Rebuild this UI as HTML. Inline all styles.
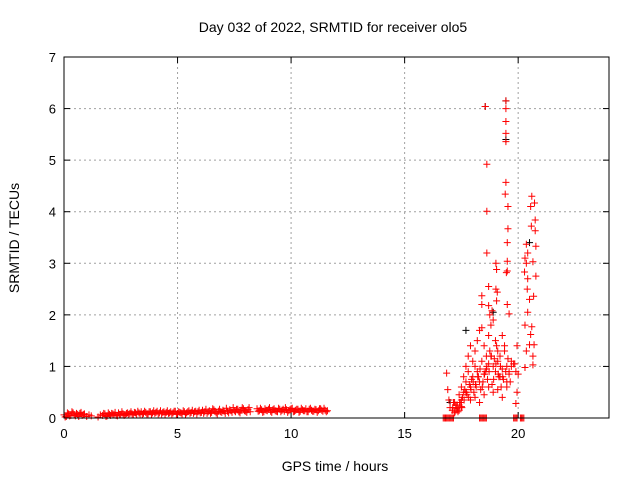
<!DOCTYPE html>
<html><head><meta charset="utf-8"><style>
html,body{margin:0;padding:0;background:#fff}
svg{display:block;font-family:"Liberation Sans",sans-serif}
</style></head><body>
<svg id="chart" width="640" height="480"></svg>
<script>
// Data (hours, TECU)
const baseTimes=[0.0,0.1,0.2,0.3,0.4,0.5,0.6,0.7,0.8,0.9,1.0,1.1,1.7,1.8,1.9,2.0,2.1,2.2,2.3,2.4,2.5,2.6,2.7,2.8,2.9,3.0,3.1,3.2,3.3,3.4,3.5,3.6,3.7,3.8,3.9,4.0,4.1,4.2,4.3,4.4,4.5,4.6,4.7,4.8,4.9,5.0,5.1,5.2,5.3,5.4,5.5,5.6,5.7,5.8,5.9,6.0,6.1,6.2,6.3,6.4,6.5,6.6,6.7,6.8,6.9,7.0,7.1,7.2,7.3,7.4,7.5,7.6,7.7,7.8,7.9,8.0,8.1,8.2,8.5,8.6,8.7,8.8,8.9,9.0,9.1,9.2,9.3,9.4,9.5,9.6,9.7,9.8,9.9,10.0,10.1,10.2,10.3,10.4,10.5,10.6,10.7,10.8,10.9,11.0,11.1,11.2,11.3,11.4,11.5,11.6];
const baseValues=[0.06,0.03,0.08,0.05,0.1,0.04,0.07,0.09,0.05,0.08,0.03,0.06,0.05,0.08,0.04,0.07,0.09,0.06,0.05,0.1,0.07,0.08,0.06,0.1,0.09,0.08,0.11,0.07,0.1,0.12,0.09,0.11,0.08,0.12,0.1,0.09,0.13,0.1,0.08,0.12,0.11,0.09,0.12,0.1,0.13,0.09,0.11,0.08,0.12,0.1,0.14,0.11,0.09,0.13,0.12,0.1,0.15,0.12,0.09,0.14,0.11,0.16,0.1,0.13,0.12,0.15,0.09,0.13,0.16,0.11,0.14,0.17,0.12,0.15,0.18,0.13,0.16,0.12,0.18,0.14,0.16,0.12,0.15,0.17,0.13,0.16,0.14,0.12,0.17,0.15,0.13,0.16,0.14,0.18,0.12,0.15,0.17,0.13,0.16,0.14,0.12,0.17,0.15,0.13,0.16,0.14,0.18,0.13,0.15,0.14];
const base2Times=[0.05,0.15,0.25,0.35,0.45,0.55,0.65,0.75,0.85,1.2,1.5,1.6,1.75,1.85,1.95,2.05,2.15,2.25,2.35,2.45,2.55,2.65,2.75,2.85,2.95,3.05,3.15,3.25,3.35,3.45,3.55,3.65,3.75,3.85,3.95,4.05,4.15,4.25,4.35,4.45,4.55,4.65,4.75,4.85,4.95,5.05,5.15,5.25,5.35,5.45,5.55,5.65,5.75,5.85,5.95,6.05,6.15,6.25,6.35,6.45,6.55,6.65,6.75,6.85,6.95,7.05,7.15,7.25,7.35,7.45,7.55,7.65,7.75,7.85,7.95,8.05,8.15,8.55,8.65,8.75,8.85,8.95,9.05,9.15,9.25,9.35,9.45,9.55,9.65,9.75,9.85,9.95,10.05,10.15,10.25,10.35,10.45,10.55,10.65,10.75,10.85,10.95,11.05,11.15,11.25,11.35,11.45,11.55];
const base2Values=[0.02,0.1,0.04,0.12,0.06,0.09,0.03,0.11,0.07,0.04,0.02,0.06,0.09,0.03,0.1,0.05,0.08,0.11,0.04,0.07,0.12,0.05,0.09,0.07,0.12,0.06,0.1,0.13,0.08,0.07,0.13,0.08,0.12,0.07,0.14,0.11,0.08,0.14,0.11,0.07,0.14,0.1,0.08,0.13,0.07,0.12,0.1,0.14,0.07,0.12,0.09,0.15,0.12,0.08,0.15,0.11,0.09,0.17,0.12,0.09,0.18,0.13,0.08,0.17,0.11,0.13,0.19,0.1,0.14,0.2,0.12,0.17,0.1,0.2,0.14,0.11,0.2,0.13,0.19,0.11,0.18,0.14,0.2,0.11,0.18,0.13,0.19,0.12,0.17,0.2,0.11,0.16,0.19,0.13,0.17,0.11,0.19,0.14,0.18,0.12,0.19,0.13,0.17,0.11,0.18,0.15,0.19,0.12];
const stormTimes=[18.55,19.46,19.46,19.46,19.46,19.46,18.62,19.46,19.43,19.55,18.62,19.55,19.52,18.62,19.02,19.05,19.52,19.52,19.48,18.7,19.02,19.08,18.4,19.05,18.4,18.7,19.52,18.85,19.6,18.75,
 20.6,20.72,20.55,20.75,20.58,20.75,20.36,20.78,20.42,20.3,20.65,20.36,20.28,20.42,20.78,20.4,20.5,20.68,20.42,20.3,20.6,20.55,20.5,20.7,20.36,20.65,20.65,20.3,
 16.85,16.9,16.95,17.0,17.1,17.2,17.3,17.4,17.5,17.6,17.7,17.8,17.9,18.0,18.1,18.2,18.3,18.4,18.5,18.6,18.7,18.8,18.9,19.0,19.1,19.2,19.3,19.4,19.5,19.6,19.7,19.8,
 17.2,17.3,17.4,17.5,17.6,17.7,17.8,17.9,18.0,18.1,18.2,18.3,18.4,18.5,18.6,18.7,18.8,18.9,19.0,19.1,19.2,19.3,19.4,19.5,19.6,19.7,
 17.25,17.35,17.45,17.55,17.65,17.75,17.85,17.95,18.05,18.15,18.25,18.35,18.45,18.55,18.65,18.75,18.85,18.95,19.05,19.15,19.25,19.35,19.45,19.55,19.65,
 17.15,17.3,17.5,17.7,17.9,18.1,18.3,18.5,18.7,18.9,19.1,19.3,19.5,
 17.12,17.22,17.32,17.42,17.52,17.62,17.72,17.82,17.92,18.02,18.12,18.22,18.32,18.42,18.52,18.62,18.72,18.82,18.92,19.02,19.12,19.22,19.32,
 19.85,19.9,19.95,19.9,19.95,20.0,
 16.7,16.75,16.8,16.85,16.9,16.95,17.0,17.05,17.1,17.15,18.3,18.35,18.4,18.45,18.5,18.55,18.6,19.8,19.85,19.9,19.95,20.1,20.15,20.2,20.25];
const stormValues=[6.04,6.15,6.0,5.75,5.52,5.36,4.92,4.57,4.34,4.1,4.01,3.67,3.4,3.2,3.0,2.88,3.04,2.85,2.82,2.55,2.5,2.44,2.37,2.27,2.2,2.18,2.2,2.08,2.02,2.0,
 4.3,4.17,4.1,3.84,3.72,3.63,3.37,3.33,3.2,3.1,3.03,3.0,2.83,2.7,2.75,2.5,2.3,2.36,2.05,1.8,1.77,1.62,1.42,1.42,1.3,1.2,1.03,0.98,
 0.87,0.55,0.35,0.2,0.15,0.3,0.25,0.45,0.6,0.8,1.0,1.2,1.4,1.1,1.3,1.5,1.7,1.75,1.4,1.2,1.6,1.8,1.9,1.5,1.3,1.2,1.6,1.4,1.0,0.9,1.1,1.05,
 0.1,0.2,0.15,0.35,0.5,0.7,0.9,0.6,0.8,1.0,0.9,0.7,1.1,0.85,0.95,1.05,1.2,1.0,0.9,1.1,0.8,0.95,1.3,0.7,0.85,1.0,
 0.25,0.12,0.3,0.4,0.55,0.45,0.65,0.75,0.5,0.6,0.8,0.55,0.7,0.9,0.75,1.3,0.65,1.15,1.4,0.8,0.6,0.75,0.9,1.15,0.7,
 0.3,0.18,0.22,0.5,0.35,0.4,0.3,0.45,0.6,0.5,0.55,0.4,0.6,
 0.2,0.12,0.25,0.3,0.2,0.35,0.5,0.4,0.55,0.7,0.65,0.8,0.95,0.6,0.85,1.0,0.9,1.2,0.75,1.05,0.85,1.0,0.8,
 1.05,0.9,0.5,0.28,1.4,0.85,
 0,0,0,0,0,0,0,0,0,0,0,0,0,0,0,0,0,0,0,0,0,0,0,0,0];
const blackTimes=[18.55,19.46,19.46,18.9,17.7,20.5,17.0];
const blackValues=[6.04,6.15,5.4,2.05,1.7,3.4,0.3];
const xTicks=[0,5,10,15,20];
const yTicks=[0,1,2,3,4,5,6,7];

const NS="http://www.w3.org/2000/svg";
const svg=document.getElementById('chart');
const L=64,R=609,T=57,B=418,XMAX=24,YMAX=7;
const xs=v=>L+v/XMAX*(R-L);
const ys=v=>B-v/YMAX*(B-T);
function mk(tag,attrs,parent){const e=document.createElementNS(NS,tag);for(const k in attrs)e.setAttribute(k,attrs[k]);(parent||svg).appendChild(e);return e;}

const grid=mk('g',{});


xTicks.forEach(t=>{
  if(t>0) mk('line',{x1:xs(t),x2:xs(t),y1:T,y2:B,stroke:'#a0a0a0','stroke-dasharray':'2,3'},grid);
  mk('line',{x1:xs(t),x2:xs(t),y1:B,y2:B-6,stroke:'#000'},grid);
  mk('line',{x1:xs(t),x2:xs(t),y1:T,y2:T+6,stroke:'#000'},grid);
  const tx=mk('text',{x:xs(t),y:B+20,'text-anchor':'middle','font-size':'13'});
  
  
  tx.textContent=t;
});
yTicks.forEach(t=>{
  if(t>0&&t<YMAX) mk('line',{x1:L,x2:R,y1:ys(t),y2:ys(t),stroke:'#a0a0a0','stroke-dasharray':'2,3'},grid);
  mk('line',{x1:L,x2:L+6,y1:ys(t),y2:ys(t),stroke:'#000'},grid);
  mk('line',{x1:R,x2:R-6,y1:ys(t),y2:ys(t),stroke:'#000'},grid);
  const tx=mk('text',{x:L-8,y:ys(t)+5,'text-anchor':'end','font-size':'13'});
  
  
  tx.textContent=t;
});

function plus(g,t,v,c){const x=xs(t),y=ys(v);
  mk('path',{d:`M${x-3.5},${y}H${x+3.5}M${x},${y-3.5}V${y+3.5}`,stroke:c,'stroke-width':1,fill:'none'},g);}
const gb=mk('g',{});


blackTimes.forEach((t,i)=>plus(gb,t,blackValues[i],'#000'));
const gr=mk('g',{});


baseTimes.forEach((t,i)=>plus(gr,t,baseValues[i],'#f00'));
base2Times.forEach((t,i)=>plus(gr,t,base2Values[i],'#f00'));
stormTimes.forEach((t,i)=>plus(gr,t,stormValues[i],'#f00'));

const fr=mk('rect',{x:L,y:T,width:R-L,height:B-T,fill:'none',stroke:'#000'});



const title=mk('text',{x:333,y:32,'text-anchor':'middle','font-size':'14'});


title.textContent='Day 032 of 2022, SRMTID for receiver olo5';
const xl=mk('text',{x:335,y:471,'text-anchor':'middle','font-size':'14'});


xl.textContent='GPS time / hours';
const yl=mk('text',{x:0,y:0,'text-anchor':'middle','font-size':'14',transform:'translate(19,238) rotate(-90)'});


yl.textContent='SRMTID / TECUs';
</script>
</body></html>
